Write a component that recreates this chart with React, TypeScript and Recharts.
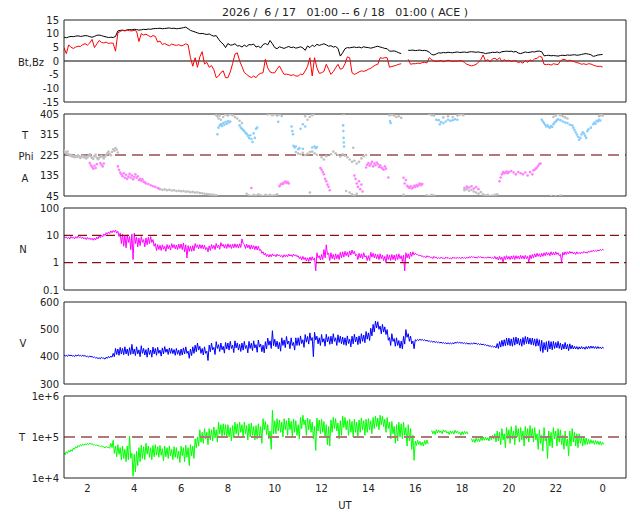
import React from 'react';
import { ComposedChart, ScatterChart, Line, Scatter, XAxis, YAxis, ReferenceLine } from 'recharts';

// ---- time base: samples every 0.1 h from 01 UT (6/17) to 00 UT (6/18) ----
const START_HOUR = 1;
const STEP_HOUR = 0.1;
const xTicks = [2, 4, 6, 8, 10, 12, 14, 16, 18, 20, 22, 24];

// ---- Bt (nT) ----
const btValues: (number | null)[] = [
  8.7, 8.5, 8.8, 9.0, 8.9, 9.1, 9.2, 9.0, 9.1, 9.3,
  9.2, 8.9, 8.7, 9.0, 9.4, 9.5, 9.3, 9.0, 8.8, 8.6,
  8.7, 8.6, 9.0, 11.0, 11.2, 11.3, 11.1, 11.4, 11.5, 11.4,
  11.6, 11.5, 11.3, 11.4, 11.6, 11.5, 11.7, 11.6, 11.8, 11.9,
  11.9, 12.0, 11.8, 11.9, 12.0, 12.1, 11.9, 12.0, 11.8, 11.9,
  12.0, 12.2, 12.4, 11.8, 11.2, 10.9, 10.6, 10.3, 10.0, 10.1,
  9.9, 9.7, 9.9, 9.4, 9.1, 9.3, 8.0, 6.9, 6.2, 4.9,
  6.4, 5.8, 5.9, 6.3, 5.5, 5.6, 5.1, 5.8, 5.3, 6.0,
  5.9, 6.2, 5.1, 5.4, 4.8, 6.0, 6.4, 5.9, 7.5, 6.3,
  4.9, 4.5, 5.2, 4.9, 4.6, 5.0, 5.3, 4.9, 5.1, 4.7,
  4.9, 5.2, 4.8, 3.9, 5.5, 4.9, 5.8, 5.3, 6.1, 5.7,
  6.0, 6.3, 5.9, 5.4, 5.6, 5.1, 5.3, 4.6, 1.8, 3.0,
  4.5, 4.9, 4.8, 5.0, 5.1, 4.9, 5.1, 4.8, 5.2, 5.0,
  4.9, 4.7, 4.9, 5.2, 5.4, 5.1, 4.9, 4.6, 4.5, 3.6,
  3.6, 3.7, 3.4, 3.0, 2.7, null, null, 3.9, 3.9, 4.0,
  3.8, 3.9, 4.0, 3.8, 3.9, 3.7, 3.2, 2.4, 2.2, 2.6,
  3.0, 2.9, 3.1, 3.0, 3.2, 3.1, 3.0, 3.2, 3.3, 3.1,
  3.2, 3.3, 3.1, 3.3, 3.4, 3.3, 3.2, 3.3, 3.1, 3.0,
  2.7, 2.9, 3.0, 3.2, 3.1, 3.3, 3.0, 3.4, 3.5, 3.6,
  3.5, 3.6, 3.3, 3.5, 2.9, 2.7, 3.0, 3.3, 3.1, 3.2,
  3.4, 3.3, 3.6, 3.6, 3.4, 1.9, 2.0, 2.1, 1.9, 2.0,
  1.9, 1.8, 2.0, 2.1, 2.0, 2.2, 2.1, 2.2, 2.3, 2.1,
  2.2, 2.4, 2.6, 2.7, 2.5, 2.3, 1.7, 1.9, 2.2, 2.3,
  2.4,
];

// ---- Bz (nT) ----
const bzValues: (number | null)[] = [
  4.9, 2.7, 5.9, 5.0, 4.6, 5.1, 5.4, 5.3, 6.0, 6.3,
  5.8, 6.6, 7.9, 4.9, 6.2, 7.5, 6.8, 6.6, 6.9, 6.4,
  6.6, 6.5, 3.6, 10.3, 10.8, 11.2, 11.0, 11.3, 11.1, 11.0,
  11.2, 10.9, 7.1, 10.0, 9.5, 9.8, 9.3, 8.8, 9.3, 9.0,
  6.9, 7.3, 6.0, 6.4, 5.9, 5.6, 6.2, 5.9, 5.7, 6.0,
  5.5, 5.8, 6.3, 5.9, 1.2, -1.9, 1.2, -2.3, 1.5, 3.4,
  -1.1, -0.5, -2.3, -1.7, -3.2, -6.1, -5.5, -4.2, -3.6, -6.1,
  -6.1, -4.0, -1.0, 2.5, 3.0, 0.0, -2.0, -4.2, -4.9, -5.6,
  -6.1, -5.5, -6.1, -5.0, -4.5, -4.3, 0.6, -2.5, -4.0, -4.3,
  -4.3, -3.0, -1.8, -3.5, -4.9, -4.8, -5.0, -5.3, -5.0, -5.5,
  -5.5, -4.8, -5.0, -3.6, -2.0, 1.2, -5.5, 1.2, -2.5, -4.5,
  -4.3, -3.8, -1.2, -3.0, -4.9, -3.9, -2.5, -1.2, -3.0, -2.7,
  -1.0, 1.5, 1.2, -4.3, -4.9, -4.5, -4.0, -3.6, -3.8, -3.5,
  -3.0, -2.7, -2.0, -1.5, -1.2, 1.2, 1.0, 1.2, 1.2, -2.3,
  -2.0, -1.8, -1.5, -1.2, -1.0, null, null, 0.6, -1.2, -1.0,
  -1.0, -0.8, -0.9, -0.6, -0.5, -0.7, 1.2, 0.5, 0.0, -0.2,
  0.0, 0.2, -0.3, 0.0, 0.3, 0.1, -0.2, 0.0, -0.1, 0.2,
  0.0, -0.5, -1.2, -1.5, -1.8, -1.6, -1.2, -0.5, 0.5, 2.2,
  0.0, 0.5, -0.3, 0.8, 1.0, 0.4, 1.2, -0.2, 0.5, 0.0,
  0.3, -0.2, 0.1, 0.0, -0.6, -0.3, -0.8, 0.2, -0.5, 0.4,
  0.0, 0.8, 1.0, 1.7, 1.5, -1.2, -1.3, -1.2, -1.5, -1.0,
  -1.2, -1.3, 0.0, 0.6, 0.5, 0.0, 0.3, 0.0, -0.3, -0.6,
  -0.8, -1.2, -1.0, -1.3, -1.0, -1.1, -1.5, -1.8, -2.0, -1.9,
  -2.2,
];

// ---- Density N (/cc): high / low of the 1-min scatter inside each 0.1 h bin ----
const nHigh: (number | null)[] = [
  9.2, 8.8, 8.5, 9.1, 8.6, 9.0, 9.4, 8.9, 8.6, 8.2,
  8.4, 8.1, 7.8, 8.0, 8.6, 9.4, 10.2, 11.2, 12.5, 13.3,
  14.5, 15.0, 15.5, 14.0, 12.0, 11.0, 10.0, 10.5, 9.0, 11.0,
  12.0, 8.5, 8.0, 9.0, 7.0, 8.0, 8.5, 9.0, 7.0, 5.0,
  4.6, 4.3, 4.5, 4.0, 4.6, 4.3, 5.0, 4.6, 4.4, 4.8,
  4.8, 5.2, 4.5, 4.2, 4.0, 4.2, 5.0, 4.5, 4.6, 4.5,
  4.3, 3.6, 4.1, 4.6, 4.3, 5.0, 4.4, 5.4, 4.7, 4.6,
  4.9, 4.6, 4.8, 4.9, 4.7, 4.9, 7.4, 4.6, 4.8, 4.4,
  4.4, 4.2, 4.1, 4.0, 3.0, 2.5, 2.2, 2.0, 2.0, 2.1,
  1.95, 2.05, 1.95, 1.85, 1.95, 1.95, 2.05, 1.95, 2.05, 1.95,
  1.8, 1.65, 1.7, 1.55, 1.5, 1.6, 1.65, 1.5, 2.3, 1.8,
  2.0, 3.0, 4.5, 2.2, 2.3, 2.0, 2.1, 2.0, 2.4, 2.5,
  2.6, 2.4, 2.7, 2.9, 2.6, 2.0, 2.2, 2.1, 2.3, 1.8,
  1.8, 2.4, 2.2, 2.1, 2.0, 2.1, 1.9, 1.7, 2.0, 1.9,
  2.0, 1.9, 2.0, 2.1, 1.8, 1.9, 2.3, 2.1, 2.4, 2.5,
  2.2, 2.0, 1.9, 1.8, 1.7, 1.8, 1.7, 1.6, 1.7, 1.6,
  1.55, 1.6, 1.5, 1.6, 1.55, 1.5, 1.6, 1.55, 1.6, 1.55,
  1.6, 1.55, 1.6, 1.65, 1.7, 1.65, 1.6, 1.7, 1.65, 1.6,
  1.6, 1.65, 1.6, 1.55, 1.7, 1.6, 1.7, 1.6, 1.7, 1.8,
  1.7, 1.75, 1.8, 1.8, 1.75, 1.85, 1.8, 1.85, 1.7, 1.9,
  2.0, 2.1, 2.2, 2.1, 2.2, 2.3, 2.4, 2.3, 2.5, 2.4,
  2.5, 2.3, 2.0, 2.4, 2.5, 2.5, 2.6, 2.5, 2.4, 2.5,
  2.35, 2.45, 2.55, 2.45, 2.65, 2.75, 2.85, 2.85, 2.95, 3.05,
  3.1,
];
const nLow: (number | null)[] = [
  8.0, 7.6, 7.3, 7.9, 7.4, 7.8, 8.2, 7.7, 7.4, 7.0,
  7.2, 6.9, 6.6, 6.8, 7.4, 8.2, 8.8, 9.8, 11.0, 11.7,
  12.5, 13.0, 12.0, 9.0, 5.0, 4.0, 3.5, 5.5, 3.0, 1.3,
  5.0, 3.8, 4.2, 5.5, 3.8, 4.5, 5.0, 5.5, 4.0, 2.8,
  3.0, 2.8, 3.1, 2.6, 3.2, 2.9, 3.5, 3.2, 3.0, 3.3,
  3.0, 2.5, 1.5, 2.6, 2.6, 2.7, 3.6, 3.2, 3.3, 3.2,
  3.0, 2.5, 2.8, 3.3, 3.0, 3.5, 3.1, 4.0, 3.4, 3.3,
  3.6, 3.3, 3.5, 3.6, 3.4, 3.6, 5.0, 3.3, 3.5, 3.1,
  3.2, 3.0, 2.9, 2.8, 2.2, 1.9, 1.7, 1.6, 1.65, 1.75,
  1.65, 1.75, 1.65, 1.55, 1.65, 1.65, 1.75, 1.65, 1.75, 1.65,
  1.4, 1.25, 1.3, 1.15, 1.1, 1.2, 1.25, 0.5, 1.5, 1.25,
  1.3, 1.5, 2.0, 1.2, 1.4, 1.3, 1.4, 1.3, 1.5, 1.6,
  1.8, 1.6, 1.9, 2.1, 1.8, 1.3, 1.5, 1.4, 1.6, 1.2,
  1.2, 1.6, 1.5, 1.4, 1.3, 1.4, 1.2, 1.0, 1.3, 1.2,
  1.3, 1.2, 1.3, 1.4, 1.1, 0.5, 1.5, 1.4, 1.7, 1.9,
  2.0, 1.8, 1.7, 1.6, 1.5, 1.6, 1.5, 1.4, 1.5, 1.4,
  1.4, 1.45, 1.35, 1.45, 1.4, 1.35, 1.45, 1.4, 1.45, 1.4,
  1.45, 1.4, 1.45, 1.5, 1.55, 1.5, 1.45, 1.55, 1.5, 1.45,
  1.45, 1.5, 1.45, 1.4, 1.35, 1.25, 1.3, 1.0, 1.3, 1.35,
  1.3, 1.35, 1.3, 1.4, 1.35, 1.4, 1.35, 1.4, 1.05, 1.4,
  1.5, 1.6, 1.7, 1.6, 1.7, 1.8, 1.9, 1.8, 1.9, 1.9,
  2.0, 1.8, 1.0, 1.9, 2.0, 2.1, 2.2, 2.1, 2.0, 2.1,
  2.1, 2.2, 2.3, 2.2, 2.4, 2.5, 2.6, 2.6, 2.7, 2.8,
  2.9,
];

// ---- Speed V (km/s): high / low per 0.1 h bin ----
const vHigh: (number | null)[] = [
  406, 405, 407, 406, 404, 406, 407, 405, 406, 404,
  402, 403, 401, 399, 397, 396, 398, 395, 398, 401,
  402, 412, 430, 428, 434, 430, 436, 428, 433, 445,
  428, 436, 425, 440, 430, 426, 432, 424, 435, 430,
  434, 424, 432, 437, 428, 432, 430, 426, 430, 424,
  428, 432, 436, 420, 428, 436, 442, 450, 438, 430,
  436, 420, 442, 450, 434, 455, 444, 450, 438, 452,
  450, 456, 442, 458, 450, 445, 450, 456, 441, 456,
  449, 458, 444, 461, 446, 442, 455, 468, 458, 495,
  464, 457, 452, 469, 461, 474, 457, 469, 452, 469,
  469, 476, 462, 481, 474, 487, 470, 489, 475, 469,
  481, 466, 482, 473, 475, 484, 469, 480, 475, 472,
  469, 476, 464, 475, 482, 472, 476, 484, 479, 492,
  487, 504, 518, 530, 528, 512, 518, 509, 499, 470,
  484, 466, 469, 459, 457, 474, 499, 484, 475, 457,
  462, 463, 464, 463, 462, 460, 458, 457, 456, 455,
  454, 453, 452, 451, 451, 450, 451, 453, 454, 453,
  452, 451, 450, 449, 450, 451, 449, 448, 447, 446,
  444, 442, 440, 439, 438, 448, 455, 460, 462, 468,
  468, 465, 470, 472, 468, 465, 470, 474, 472, 468,
  468, 465, 466, 462, 460, 452, 455, 458, 455, 456,
  452, 456, 450, 446, 452, 445, 447, 442, 438, 437,
  436, 437, 435, 437, 438, 439, 438, 437, 437, 435,
  435,
];
const vLow: (number | null)[] = [
  402, 401, 403, 402, 400, 402, 403, 401, 402, 400,
  398, 399, 397, 395, 393, 392, 394, 391, 394, 396,
  398, 400, 408, 405, 410, 407, 410, 404, 408, 410,
  404, 410, 400, 412, 406, 398, 408, 398, 410, 405,
  412, 402, 410, 416, 408, 412, 411, 405, 409, 404,
  406, 410, 412, 394, 404, 412, 418, 424, 412, 406,
  412, 386, 418, 425, 408, 430, 419, 425, 413, 428,
  424, 430, 415, 432, 424, 419, 424, 430, 414, 430,
  422, 432, 416, 435, 418, 414, 428, 442, 430, 440,
  436, 429, 420, 441, 433, 446, 429, 441, 424, 441,
  441, 448, 434, 453, 446, 459, 400, 461, 447, 441,
  453, 438, 454, 445, 447, 456, 441, 452, 447, 444,
  441, 448, 436, 447, 454, 444, 448, 456, 451, 464,
  459, 476, 490, 505, 500, 484, 490, 481, 460, 441,
  456, 438, 441, 431, 429, 446, 471, 456, 447, 429,
  458, 459, 460, 459, 458, 456, 454, 453, 452, 451,
  450, 449, 448, 447, 447, 446, 447, 449, 450, 449,
  448, 447, 446, 445, 446, 447, 445, 444, 443, 442,
  440, 438, 436, 435, 432, 430, 435, 438, 440, 442,
  440, 438, 442, 446, 442, 438, 444, 448, 446, 444,
  442, 438, 440, 420, 415, 425, 418, 428, 425, 430,
  432, 430, 425, 428, 428, 422, 428, 428, 428, 427,
  428, 429, 427, 429, 430, 431, 430, 429, 430, 429,
  431,
];

// ---- Temperature T (thousand K): high / low per 0.1 h bin ----
const tHighK: (number | null)[] = [
  41, 44, 47, 49, 54, 58, 62, 65, 67, 68,
  69, 71, 68, 66, 64, 62, 61, 58, 59, 57,
  70, 83, 60, 65, 55, 60, 50, 60, 105, 40,
  38, 45, 55, 63, 58, 70, 60, 55, 62, 65,
  58, 62, 52, 60, 55, 60, 50, 58, 55, 45,
  60, 55, 63, 55, 65, 60, 90, 100, 150, 130,
  160, 130, 160, 150, 175, 150, 230, 200, 210, 200,
  200, 170, 190, 230, 210, 230, 200, 230, 190, 210,
  220, 180, 190, 210, 180, 280, 240, 200, 140, 450,
  250, 280, 260, 230, 280, 250, 290, 240, 270, 250,
  200, 300, 340, 260, 290, 270, 230, 180, 290, 260,
  270, 240, 200, 180, 260, 300, 280, 220, 250, 320,
  300, 250, 270, 240, 270, 230, 260, 290, 250, 270,
  280, 250, 300, 320, 290, 340, 320, 270, 300, 230,
  240, 180, 200, 230, 210, 230, 170, 200, 160, 110,
  80, 83, 78, 75, 82, 84, null, 145, 140, 150,
  148, 140, 150, 145, 135, 142, 138, 146, 140, 130,
  135, 138, 135, null, 92, 88, 95, 92, 98, 100,
  100, 96, 104, 110, 120, 140, 130, 160, 120, 170,
  150, 180, 140, 190, 160, 170, 140, 180, 160, 190,
  160, 170, 120, 150, 110, 170, 100, 140, 130, 170,
  140, 160, 150, 110, 140, 90, 140, 160, 130, 120,
  120, 100, 100, 95, 88, 86, 82, 82, 80, 78,
  74,
];
const tLowK: (number | null)[] = [
  37, 40, 43, 45, 50, 54, 58, 61, 63, 64,
  65, 67, 64, 62, 60, 58, 57, 54, 55, 53,
  55, 40, 33, 38, 28, 30, 25, 28, 30, 11,
  14, 20, 25, 30, 28, 38, 32, 28, 33, 36,
  32, 36, 26, 33, 30, 35, 28, 32, 30, 24,
  35, 25, 32, 20, 35, 30, 55, 60, 75, 70,
  90, 65, 85, 80, 95, 75, 120, 100, 110, 95,
  100, 80, 95, 120, 105, 130, 100, 120, 85, 100,
  110, 85, 90, 100, 70, 150, 115, 90, 50, 120,
  120, 140, 130, 100, 150, 110, 150, 100, 130, 110,
  90, 160, 200, 110, 150, 130, 90, 47, 140, 120,
  130, 100, 65, 60, 130, 160, 140, 90, 110, 170,
  150, 110, 130, 100, 130, 100, 130, 150, 110, 130,
  150, 120, 160, 180, 150, 200, 180, 130, 160, 90,
  120, 70, 80, 100, 90, 110, 60, 80, 50, 27,
  62, 66, 62, 60, 66, 68, null, 120, 115, 125,
  128, 120, 132, 125, 115, 122, 118, 126, 120, 110,
  115, 120, 118, null, 76, 73, 78, 77, 82, 83,
  84, 80, 86, 90, 75, 80, 65, 85, 55, 90,
  70, 90, 65, 100, 75, 85, 60, 90, 75, 100,
  75, 85, 50, 70, 45, 80, 30, 60, 55, 90,
  60, 75, 65, 50, 60, 35, 60, 75, 60, 55,
  70, 60, 65, 66, 68, 70, 66, 67, 65, 63,
  66,
];

// ---- Phi (deg): [hour, angle] points, split by plotted colour ----
const phiGray: [number, number][] = [
  [1.0, 245], [1.05, 238], [1.1, 232], [1.15, 240], [1.2, 228], [1.25, 222], [1.3, 226], [1.35, 218], [1.4, 222], [1.45, 215],
  [1.5, 220], [1.55, 216], [1.6, 224], [1.65, 218], [1.7, 212], [1.75, 218], [1.8, 222], [1.85, 214], [1.9, 218], [1.95, 210],
  [2.0, 215], [2.05, 222], [2.1, 228], [2.15, 218], [2.2, 212], [2.25, 208], [2.3, 220], [2.35, 226], [2.4, 214], [2.45, 206],
  [2.5, 212], [2.55, 218], [2.6, 222], [2.65, 216], [2.7, 210], [2.75, 218], [2.8, 225], [2.85, 232], [2.9, 240], [2.95, 230],
  [3.0, 224], [3.05, 238], [3.1, 250], [3.15, 244], [3.2, 256], [3.25, 248], [3.3, 236],
  [5.1, 75], [5.2, 72], [5.3, 74], [5.4, 70], [5.5, 72], [5.6, 69], [5.7, 70], [5.8, 67], [5.9, 68], [6.0, 66],
  [6.1, 67], [6.2, 64], [6.3, 65], [6.4, 62], [6.5, 63], [6.6, 60], [6.7, 61], [6.8, 58], [6.9, 57], [7.0, 55],
  [7.1, 54], [7.2, 52], [7.3, 51], [7.4, 50], [7.5, 48],
  [7.5, 400], [7.55, 395], [7.6, 385], [7.65, 398], [7.7, 380], [7.8, 392], [7.9, 402], [8.0, 398], [8.1, 404], [8.2, 400],
  [8.3, 392], [8.4, 385], [8.5, 375], [8.6, 365],
  [9.7, 403], [9.8, 405], [9.9, 400], [10.0, 404], [10.1, 398], [10.2, 402], [10.3, 396],
  [8.8, 55], [8.9, 48], [9.0, 45], [9.1, 50], [9.2, 47], [9.3, 52], [9.4, 48], [9.5, 45], [9.6, 50], [9.7, 47],
  [9.8, 50], [9.9, 46], [10.0, 48], [10.1, 52],
  [11.3, 395], [11.4, 380], [11.5, 392], [11.6, 400], [11.65, 404], [11.5, 60],
  [10.9, 238], [11.0, 232], [11.1, 228], [11.2, 235], [11.3, 225], [11.4, 230], [11.5, 238], [11.6, 240], [11.7, 232], [11.8, 226],
  [12.0, 215], [12.1, 205], [12.2, 220], [12.4, 228], [12.5, 240], [12.6, 232], [12.7, 225], [12.8, 218], [12.9, 228], [13.0, 222],
  [12.95, 404], [13.05, 67], [13.35, 257],
  [13.1, 215], [13.2, 205], [13.3, 195], [13.4, 200], [13.5, 188], [13.6, 195], [13.7, 210], [13.8, 220], [13.9, 225],
  [13.2, 60], [13.3, 52], [13.4, 48], [13.5, 55],
  [14.9, 400], [15.0, 402], [15.1, 398], [15.2, 392], [15.3, 395], [15.4, 388],
  [15.5, 50], [16.5, 48], [16.6, 45], [16.7, 50], [16.8, 47],
  [16.6, 405], [16.7, 400], [16.8, 398], [17.2, 390], [17.4, 395], [17.6, 392], [17.8, 398], [17.9, 402], [18.0, 405], [18.05, 400],
  [18.1, 70], [18.2, 75], [18.3, 68], [18.4, 72], [18.5, 65], [18.6, 60], [18.7, 55], [18.8, 62], [18.9, 52], [19.0, 48],
  [19.1, 50], [19.2, 45], [19.3, 47], [19.4, 50], [19.5, 52],
  [21.8, 45], [22.0, 45], [22.2, 47],
  [21.9, 392], [22.0, 398], [22.1, 405], [22.2, 400], [22.3, 395], [22.4, 390], [22.5, 385],
  [23.85, 395], [23.9, 400], [23.95, 405], [24.0, 398],
];

const phiBlue: [number, number][] = [
  [7.55, 316], [7.6, 345], [7.65, 355], [7.7, 360], [7.75, 352], [7.8, 365], [7.85, 358], [7.9, 370], [7.95, 362], [8.0, 374],
  [8.05, 368], [8.1, 372],
  [8.5, 355], [8.55, 345], [8.6, 340], [8.65, 335], [8.7, 330], [8.75, 322], [8.8, 318], [8.85, 310], [8.9, 300], [8.95, 312],
  [9.0, 295], [9.05, 282], [9.1, 320], [9.15, 300], [9.2, 340], [9.25, 345],
  [10.15, 371], [10.72, 350], [10.75, 330], [10.78, 316],
  [11.1, 340], [11.2, 360], [11.3, 350],
  [10.8, 265], [10.85, 258], [10.9, 262], [11.0, 250], [11.05, 255], [11.2, 252], [11.6, 258], [11.7, 262], [11.75, 255], [11.8, 260],
  [12.92, 355], [12.93, 330], [12.94, 300], [12.95, 280], [12.96, 262],
  [14.92, 374], [14.95, 365],
  [16.9, 380], [17.0, 378], [17.05, 360], [17.1, 370], [17.2, 365], [17.3, 372], [17.4, 380], [17.5, 375], [17.6, 378], [17.7, 382],
  [17.8, 380],
  [21.4, 380], [21.45, 372], [21.5, 365], [21.55, 358], [21.6, 350], [21.65, 355], [21.7, 348], [21.75, 345], [21.8, 352], [21.85, 348],
  [21.9, 360], [21.95, 368], [22.0, 372], [22.05, 378], [22.1, 382], [22.2, 378], [22.3, 372], [22.4, 368], [22.5, 365], [22.6, 358],
  [22.7, 355], [22.75, 345], [22.8, 335], [22.85, 325], [22.9, 315], [22.95, 305], [23.0, 292], [23.05, 300], [23.1, 315], [23.15, 325],
  [23.2, 320], [23.25, 310], [23.3, 300], [23.35, 330], [23.4, 338], [23.5, 345], [23.6, 360], [23.65, 368], [23.7, 362], [23.75, 375],
  [23.8, 372], [23.85, 380], [23.9, 376],
];

const phiPink: [number, number][] = [
  [2.1, 190], [2.15, 180], [2.2, 172], [2.25, 165], [2.3, 178], [2.35, 168], [2.4, 185], [2.55, 190], [2.6, 182], [2.65, 175], [2.7, 188],
  [3.3, 175], [3.35, 160], [3.4, 148], [3.45, 140], [3.5, 132], [3.55, 145], [3.6, 125], [3.65, 138], [3.7, 120], [3.75, 130],
  [3.8, 142], [3.85, 125], [3.9, 135], [3.95, 118], [4.0, 128], [4.05, 140], [4.1, 125], [4.15, 132], [4.2, 115], [4.25, 120],
  [4.3, 112], [4.35, 118], [4.4, 108], [4.45, 105], [4.5, 100], [4.6, 98], [4.7, 92], [4.8, 88], [4.9, 85], [5.0, 80], [5.05, 78],
  [9.0, 80],
  [10.2, 88], [10.25, 95], [10.3, 100], [10.35, 98], [10.4, 104], [10.45, 108], [10.5, 102], [10.55, 106], [10.6, 100],
  [11.95, 168], [12.0, 160], [12.05, 150], [12.1, 140], [12.15, 120], [12.2, 110], [12.25, 95], [12.3, 85], [12.35, 70],
  [13.4, 135], [13.45, 120], [13.5, 100], [13.55, 85], [13.6, 110], [13.65, 75], [13.7, 95], [13.75, 65],
  [13.9, 170], [13.95, 182], [14.0, 190], [14.05, 178], [14.1, 185], [14.15, 195], [14.2, 175], [14.25, 188], [14.3, 180], [14.35, 192],
  [14.4, 185], [14.45, 172], [14.5, 180], [14.55, 170], [14.6, 165], [14.65, 160], [14.7, 175], [14.75, 165], [14.85, 126],
  [15.5, 125], [15.55, 100], [15.6, 115], [15.65, 90], [15.7, 85], [15.75, 80], [15.8, 88], [15.85, 78], [15.9, 82], [15.95, 90],
  [16.0, 85], [16.05, 92], [16.1, 88], [16.15, 95], [16.2, 100], [16.25, 92], [16.3, 98],
  [18.1, 80], [18.2, 86], [18.3, 82], [18.4, 88], [18.5, 78], [18.6, 84], [18.7, 75],
  [19.6, 110], [19.65, 126], [19.7, 140], [19.75, 150], [19.8, 145], [19.85, 148], [19.9, 152], [19.95, 145], [20.0, 150], [20.1, 155],
  [20.2, 148], [20.3, 140], [20.4, 150], [20.5, 145], [20.6, 140], [20.7, 148], [20.8, 135], [20.9, 150], [21.0, 140], [21.05, 158],
  [21.1, 160], [21.15, 165], [21.2, 170], [21.25, 178], [21.3, 185], [21.35, 188],
];

// ---- axis tick sets ----
const bTicks = [-15, -10, -5, 0, 5, 10, 15];
const phiTicks = [45, 135, 225, 315, 405];
const nTicks = [0.1, 1, 10, 100];
const nMinorTicks = [0.1, 0.2, 0.3, 0.4, 0.5, 0.6, 0.7, 0.8, 0.9, 1, 2, 3, 4, 5, 6, 7, 8, 9, 10, 20, 30, 40, 50, 60, 70, 80, 90, 100];
const vTicks = [300, 400, 500, 600];
const tTicksK = [10, 100, 1000];
const tMinorTicksK = [10, 20, 30, 40, 50, 60, 70, 80, 90, 100, 200, 300, 400, 500, 600, 700, 800, 900, 1000];

const hours = btValues.map((_, i) => Math.round((START_HOUR + i * STEP_HOUR) * 10) / 10);
const HALF = STEP_HOUR / 2;
const magData = hours.map((h, i) => ({ h, bt: btValues[i], bz: bzValues[i] }));
// min/max trace: each bin drawn as its high then its low value
const envelope = (hi: (number | null)[], lo: (number | null)[]) =>
  hours.flatMap((h, i) => [
    { h, v: hi[i] },
    { h: Math.round((h + HALF) * 100) / 100, v: lo[i] },
  ]);
const nData = envelope(nHigh, nLow);
const vData = envelope(vHigh, vLow);
const tData = envelope(tHighK, tLowK);
const toPts = (a: [number, number][]) => a.map(([h, v]) => ({ h, v }));

const FONT = 'DejaVu Sans';
const TXT = '#222';
const tickStyle = { fontSize: 10, fill: TXT, fontFamily: FONT };
const PLOT_H = 82;
const MT = 6;

const hourFmt = (v: number) => String(v % 24);
const tFmt = (v: number) => `1e+${Math.round(Math.log10(v)) + 3}`;
const nFmt = (v: number) => String(v);

type PanelProps = {
  top: number;
  kind: 'line' | 'scatter';
  data?: any[];
  yScale?: 'linear' | 'log';
  yDomain: [number, number];
  yTicks: number[];
  yLeftTicks: number[];
  yRightTicks: number[];
  yFmt?: (v: number) => string;
  leftTickColor?: string;
  showXLabels?: boolean;
  children: React.ReactNode;
};

function Panel(p: PanelProps) {
  const mb = p.showXLabels ? 0 : 6;
  const xlH = p.showXLabels ? 28 : 0;
  const h = MT + PLOT_H + mb + xlH;
  const Chart: any = p.kind === 'scatter' ? ScatterChart : ComposedChart;
  const scale = p.yScale || 'linear';
  return (
    <div style={{ position: 'absolute', left: 0, top: p.top - MT }}>
      <Chart width={640} height={h} data={p.data} margin={{ top: MT, right: 14, bottom: mb, left: 0 }}>
        <XAxis xAxisId="x" dataKey="h" type="number" domain={[1, 25]} ticks={xTicks} orientation="bottom" mirror
          tick={false} tickSize={4} interval={0} allowDataOverflow axisLine={{ stroke: TXT }} tickLine={{ stroke: TXT }} />
        <XAxis xAxisId="xt" dataKey="h" type="number" domain={[1, 25]} ticks={xTicks} orientation="top" mirror
          tick={false} tickSize={4} interval={0} allowDataOverflow axisLine={{ stroke: TXT }} tickLine={{ stroke: TXT }} />
        {p.showXLabels && (
          <XAxis xAxisId="xl" dataKey="h" type="number" domain={[1, 25]} ticks={xTicks} orientation="bottom" height={xlH}
            axisLine={false} tickLine={false} tickSize={5} tickMargin={2} interval={0} allowDataOverflow
            tickFormatter={hourFmt} tick={tickStyle} />
        )}
        <YAxis yAxisId="y" dataKey="v" type="number" scale={scale} domain={p.yDomain} ticks={p.yLeftTicks} orientation="left" mirror
          width={10} tick={false} tickSize={4} interval={0} allowDataOverflow
          axisLine={{ stroke: TXT }} tickLine={{ stroke: p.leftTickColor || TXT }} />
        <YAxis yAxisId="yl" type="number" scale={scale} domain={p.yDomain} ticks={p.yTicks} orientation="left" width={64}
          axisLine={false} tickLine={false} tickSize={2} tickMargin={3} interval={0} allowDataOverflow
          tickFormatter={p.yFmt} tick={tickStyle} />
        <YAxis yAxisId="yr" type="number" scale={scale} domain={p.yDomain} ticks={p.yRightTicks} orientation="right" mirror
          width={10} tick={false} tickSize={4} interval={0} allowDataOverflow
          axisLine={{ stroke: TXT }} tickLine={{ stroke: TXT }} />
        {p.children}
      </Chart>
    </div>
  );
}

const dot = (color: string) => (props: any) =>
  props.cx == null ? <g /> : <circle cx={props.cx} cy={props.cy} r={1.3} fill={color} />;

export default function App() {
  return (
    <div style={{ position: 'absolute', left: 0, top: 0, width: 640, height: 512, background: '#fff', fontFamily: FONT }}>
      <svg width={640} height={512} style={{ position: 'absolute', left: 0, top: 0 }}>
        <text x={345} y={16} textAnchor="middle" fontSize={11} fill={TXT} fontFamily={FONT} style={{ whiteSpace: 'pre' }}>
          {'2026 /  6 / 17   01:00 -- 6 / 18   01:00 ( ACE )'}
        </text>
        <text x={31} y={62} textAnchor="middle" dominantBaseline="central" fontSize={10} fill={TXT} fontFamily={FONT}>Bt,Bz</text>
        <text x={25} y={135} textAnchor="middle" dominantBaseline="central" fontSize={10} fill={TXT} fontFamily={FONT}>T</text>
        <text x={26} y={156} textAnchor="middle" dominantBaseline="central" fontSize={10} fill={TXT} fontFamily={FONT}>Phi</text>
        <text x={25} y={178} textAnchor="middle" dominantBaseline="central" fontSize={10} fill={TXT} fontFamily={FONT}>A</text>
        <text x={23} y={249} textAnchor="middle" dominantBaseline="central" fontSize={10} fill={TXT} fontFamily={FONT}>N</text>
        <text x={23} y={343} textAnchor="middle" dominantBaseline="central" fontSize={10} fill={TXT} fontFamily={FONT}>V</text>
        <text x={22} y={437} textAnchor="middle" dominantBaseline="central" fontSize={10} fill={TXT} fontFamily={FONT}>T</text>
        <text x={345} y={505} textAnchor="middle" dominantBaseline="central" fontSize={10} fill={TXT} fontFamily={FONT}>UT</text>
      </svg>

      <Panel top={20} kind="line" data={magData} yDomain={[-15, 15]} yTicks={bTicks} yLeftTicks={bTicks} yRightTicks={bTicks}>
        <ReferenceLine xAxisId="x" yAxisId="y" y={0} stroke="#808080" strokeWidth={2} />
        <Line xAxisId="x" yAxisId="y" dataKey="bt" stroke="#000" strokeWidth={1} dot={false} isAnimationActive={false} connectNulls={false} />
        <Line xAxisId="x" yAxisId="y" dataKey="bz" stroke="#ff0000" strokeWidth={1} dot={false} isAnimationActive={false} connectNulls={false} />
      </Panel>

      <Panel top={114} kind="scatter" yDomain={[45, 405]} yTicks={phiTicks} yLeftTicks={phiTicks} yRightTicks={phiTicks}>
        <Scatter xAxisId="x" yAxisId="y" data={toPts(phiGray)} fill="#c0c0c0" shape={dot('#c0c0c0')} isAnimationActive={false} />
        <Scatter xAxisId="x" yAxisId="y" data={toPts(phiBlue)} fill="#87cefa" shape={dot('#87cefa')} isAnimationActive={false} />
        <Scatter xAxisId="x" yAxisId="y" data={toPts(phiPink)} fill="#ff80ff" shape={dot('#ff80ff')} isAnimationActive={false} />
        <ReferenceLine xAxisId="x" yAxisId="y" y={225} stroke="#b07878" strokeWidth={2} strokeDasharray="11 6" />
      </Panel>

      <Panel top={208} kind="line" data={nData} yScale="log" yDomain={[0.1, 100]} yTicks={nTicks} yLeftTicks={nMinorTicks}
        yRightTicks={nTicks} yFmt={nFmt} leftTickColor="#888">
        <Line xAxisId="x" yAxisId="y" dataKey="v" stroke="#ff00ff" strokeWidth={1} dot={false} isAnimationActive={false} connectNulls={false} />
        <ReferenceLine xAxisId="x" yAxisId="y" y={10} stroke="#8b1010" strokeWidth={1.2} strokeDasharray="9 5" />
        <ReferenceLine xAxisId="x" yAxisId="y" y={1} stroke="#8b1010" strokeWidth={1.2} strokeDasharray="9 5" />
      </Panel>

      <Panel top={302} kind="line" data={vData} yDomain={[300, 600]} yTicks={vTicks} yLeftTicks={vTicks} yRightTicks={vTicks}>
        <Line xAxisId="x" yAxisId="y" dataKey="v" stroke="#0000ff" strokeWidth={1} dot={false} isAnimationActive={false} connectNulls={false} />
      </Panel>

      <Panel top={396} kind="line" data={tData} yScale="log" yDomain={[10, 1000]} yTicks={tTicksK} yLeftTicks={tMinorTicksK}
        yRightTicks={tTicksK} yFmt={tFmt} leftTickColor="#888" showXLabels>
        <Line xAxisId="x" yAxisId="y" dataKey="v" stroke="#00ff00" strokeWidth={1} dot={false} isAnimationActive={false} connectNulls={false} />
        <ReferenceLine xAxisId="x" yAxisId="y" y={100} stroke="#b07878" strokeWidth={2} strokeDasharray="11 6" />
      </Panel>
    </div>
  );
}
